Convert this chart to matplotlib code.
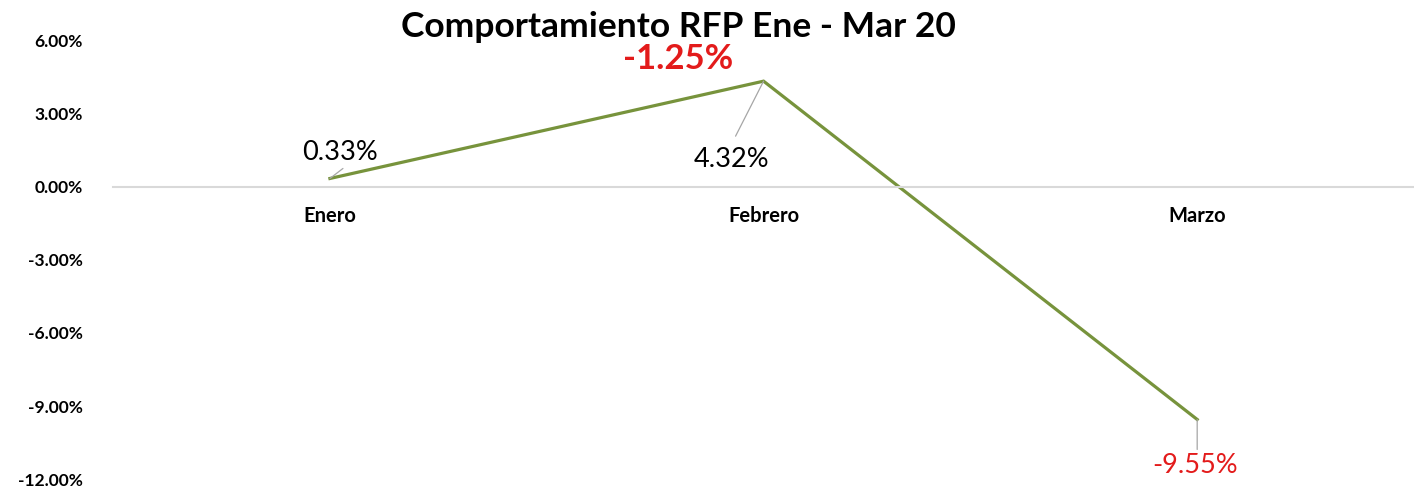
import matplotlib
matplotlib.use("Agg")
import matplotlib.pyplot as plt
from matplotlib.ticker import FuncFormatter

plt.rcParams['font.family'] = ['Lato', 'DejaVu Sans']

meses = ["Enero", "Febrero", "Marzo"]
rfp = [0.33, 4.32, -9.55]
acumulado = -1.25  # red label above Febrero
y_ticks = [6, 3, 0, -3, -6, -9, -12]

LINE = '#77933C'
RED = '#E31B1B'

fig = plt.figure(figsize=(14.14, 4.9), dpi=100)
ax = fig.add_axes([0.080, 0.022, 0.920, 0.896])

x = list(range(len(meses)))
ax.plot(x, rfp, color=LINE, lw=2.3, solid_joinstyle='miter')

for s in ['top', 'right', 'left']:
    ax.spines[s].set_visible(False)
ax.spines['bottom'].set_position(('data', 0))
ax.spines['bottom'].set_color('#D9D9D9')
ax.spines['bottom'].set_linewidth(1.5)

ax.set_xlim(-0.5, 2.5)
ax.set_ylim(-12, 6)
ax.set_yticks(y_ticks)
ax.yaxis.set_major_formatter(FuncFormatter(lambda v, p: f"{v:.2f}%"))
ax.tick_params(axis='y', length=0, pad=22, labelsize=12.5)
for t in ax.get_yticklabels():
    t.set_fontweight('bold')

ax.set_xticks(x)
ax.set_xticklabels(meses, fontweight='bold', fontsize=14.5)
ax.tick_params(axis='x', length=0, pad=14)

fig.text(0.48, 0.945, "Comportamiento RFP Ene - Mar 20", ha='center', va='center',
         fontsize=25.5, fontweight='bold')

# data labels with leader lines
leader = dict(arrowstyle='-', color='#A6A6A6', lw=0.9, shrinkA=0, shrinkB=0)
offsets = [(10, 26), (-32, -78), (-2, -46)]
ends = [(13, 10), (-28, -55), (0, -30)]
colors = ['black', 'black', RED]
for i, v in enumerate(rfp):
    ax.annotate(f"{v:.2f}%", xy=(i, v), xytext=offsets[i], textcoords='offset pixels',
                ha='center', va='center', fontsize=19.5, color=colors[i])
    ax.annotate('', xy=(i, v), xytext=ends[i], textcoords='offset pixels',
                arrowprops=leader)

ax.annotate(f"{acumulado:.2f}%", xy=(1, rfp[1]), xytext=(-85, 22), textcoords='offset pixels',
            ha='center', va='center', fontsize=25, color=RED, fontweight='bold')

fig.savefig("out.png", dpi=100, facecolor='white')
